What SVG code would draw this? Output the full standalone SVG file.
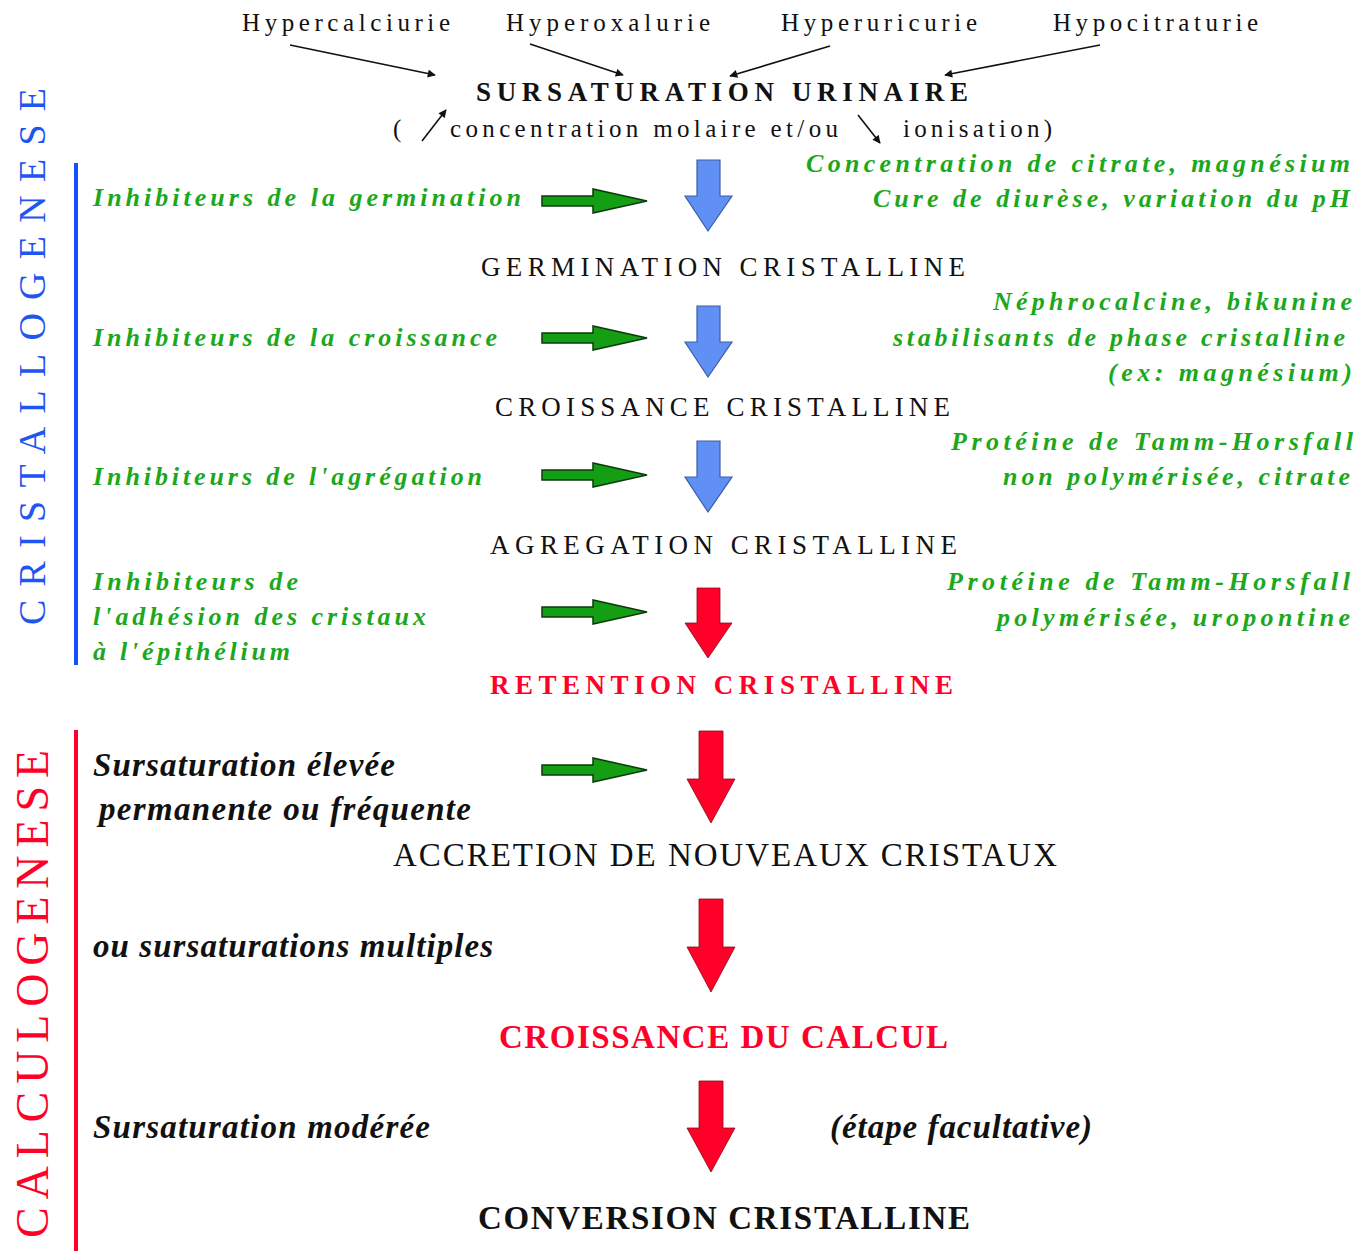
<svg xmlns="http://www.w3.org/2000/svg" width="1369" height="1251" viewBox="0 0 1369 1251">
<style>
text{font-family:"Liberation Serif","Times New Roman",serif}
.lbl{font-size:25px;fill:#111}
.step{font-size:27px;fill:#111}
.gi{font-size:26px;font-style:italic;font-weight:bold;fill:#1ca81c}
.bi{font-size:33px;font-style:italic;font-weight:bold;fill:#111}
.big{font-size:33px;fill:#111}
.red{fill:#ff0028}
.ga{fill:#149e14;stroke:#0b3a0b;stroke-width:1.5}
.ba{fill:#6090f4;stroke:#3c5ca8;stroke-width:1.2}
.ra{fill:#ff0028;stroke:#8a0a1a;stroke-width:0.8}
.thin{stroke:#111;stroke-width:1.6;fill:none;marker-end:url(#ah)}
</style>
<defs>
<marker id="ah" viewBox="0 0 10 10" refX="9" refY="5" markerWidth="9" markerHeight="8" orient="auto" markerUnits="userSpaceOnUse">
<path d="M0,0 L10,5 L0,10 z" fill="#111"/>
</marker>
<path id="greenArrow" d="M0,-5 H51 V-12 L105,0 L51,12 V5 H0 Z"/>
</defs>
<rect width="1369" height="1251" fill="#fff"/>

<g id="side-labels">
<rect x="74" y="163" width="4" height="502" fill="#1450ff"/>
<text fill="#1f55f0" font-size="38" transform="translate(45,625) rotate(-90)" textLength="537" lengthAdjust="spacing">CRISTALLOGENESE</text>
<rect x="74" y="730" width="4" height="521" fill="#ff0028"/>
<text fill="#ff0028" font-size="46" transform="translate(48,1238) rotate(-90)" textLength="488" lengthAdjust="spacing">CALCULOGENESE</text>
</g>

<g id="causes">
<text class="lbl" x="242" y="31" textLength="208" lengthAdjust="spacing">Hypercalciurie</text>
<text class="lbl" x="506" y="31" textLength="204" lengthAdjust="spacing">Hyperoxalurie</text>
<text class="lbl" x="781" y="31" textLength="196" lengthAdjust="spacing">Hyperuricurie</text>
<text class="lbl" x="1053" y="31" textLength="205" lengthAdjust="spacing">Hypocitraturie</text>
</g>

<g id="sursaturation">
<text class="step" font-weight="bold" x="476" y="101" textLength="492" lengthAdjust="spacing">SURSATURATION URINAIRE</text>
<text class="lbl" x="393" y="137">(</text>
<text class="lbl" x="450" y="137" textLength="388" lengthAdjust="spacing">concentration molaire et/ou</text>
<text class="lbl" x="903" y="137" textLength="149" lengthAdjust="spacing">ionisation)</text>
<text class="gi" x="1350" y="172" text-anchor="end" textLength="544" lengthAdjust="spacing">Concentration de citrate,  magnésium</text>
<text class="gi" x="1350" y="207" text-anchor="end" textLength="477" lengthAdjust="spacing">Cure de diurèse, variation du pH</text>
</g>

<g id="germination">
<text class="gi" x="93" y="206" textLength="428" lengthAdjust="spacing">Inhibiteurs de la germination</text>
<text class="step" x="481" y="276" textLength="484" lengthAdjust="spacing">GERMINATION CRISTALLINE</text>
<text class="gi" x="1352" y="310" text-anchor="end" textLength="359" lengthAdjust="spacing">Néphrocalcine, bikunine</text>
<text class="gi" x="1345" y="346" text-anchor="end" textLength="452" lengthAdjust="spacing">stabilisants de phase cristalline</text>
<text class="gi" x="1352" y="381" text-anchor="end" textLength="244" lengthAdjust="spacing">(ex: magnésium)</text>
<text class="gi" x="93" y="346" textLength="404" lengthAdjust="spacing">Inhibiteurs de la croissance</text>
</g>

<g id="croissance">
<text class="step" x="495" y="416" textLength="455" lengthAdjust="spacing">CROISSANCE CRISTALLINE</text>
<text class="gi" x="1353" y="450" text-anchor="end" textLength="402" lengthAdjust="spacing">Protéine de Tamm-Horsfall</text>
<text class="gi" x="1350" y="485" text-anchor="end" textLength="347" lengthAdjust="spacing">non polymérisée, citrate</text>
<text class="gi" x="93" y="485" textLength="389" lengthAdjust="spacing">Inhibiteurs de l'agrégation</text>
</g>

<g id="agregation">
<text class="step" x="490" y="554" textLength="467" lengthAdjust="spacing">AGREGATION CRISTALLINE</text>
<text class="gi" x="1350" y="590" text-anchor="end" textLength="403" lengthAdjust="spacing">Protéine de Tamm-Horsfall</text>
<text class="gi" x="1350" y="626" text-anchor="end" textLength="353" lengthAdjust="spacing">polymérisée, uropontine</text>
<text class="gi" x="93" y="590" textLength="205" lengthAdjust="spacing">Inhibiteurs de</text>
<text class="gi" x="93" y="625" textLength="333" lengthAdjust="spacing">l'adhésion des cristaux</text>
<text class="gi" x="93" y="660" textLength="197" lengthAdjust="spacing">à l'épithélium</text>
</g>

<g id="retention">
<text class="step red" font-weight="bold" x="490" y="694" textLength="463" lengthAdjust="spacing">RETENTION CRISTALLINE</text>
<text class="bi" x="93" y="776" textLength="302" lengthAdjust="spacing">Sursaturation élevée</text>
<text class="bi" x="99" y="820" textLength="372" lengthAdjust="spacing">permanente ou fréquente</text>
</g>

<g id="accretion">
<text class="big" x="393" y="866" textLength="664" lengthAdjust="spacing">ACCRETION DE  NOUVEAUX CRISTAUX</text>
<text class="bi" x="93" y="957" textLength="400" lengthAdjust="spacing">ou sursaturations multiples</text>
</g>

<g id="croissance-calcul">
<text class="big red" font-weight="bold" x="499" y="1048" textLength="449" lengthAdjust="spacing">CROISSANCE DU CALCUL</text>
<text class="bi" x="93" y="1138" textLength="337" lengthAdjust="spacing">Sursaturation modérée</text>
<text class="bi" x="830" y="1138" textLength="262" lengthAdjust="spacing">(étape facultative)</text>
</g>

<g id="conversion">
<text class="big" font-weight="bold" x="478" y="1229" textLength="492" lengthAdjust="spacing">CONVERSION CRISTALLINE</text>
</g>

<g id="connectors">
<line class="thin" x1="290" y1="45" x2="435" y2="75"/>
<line class="thin" x1="530" y1="44" x2="623" y2="75"/>
<line class="thin" x1="830" y1="46" x2="730" y2="76"/>
<line class="thin" x1="1100" y1="45" x2="945" y2="75"/>
<line class="thin" x1="422" y1="141" x2="446" y2="110"/>
<line class="thin" x1="858" y1="115" x2="880" y2="143"/>

<use href="#greenArrow" class="ga" x="542" y="201"/>
<use href="#greenArrow" class="ga" x="542" y="338"/>
<use href="#greenArrow" class="ga" x="542" y="475"/>
<use href="#greenArrow" class="ga" x="542" y="612"/>
<use href="#greenArrow" class="ga" x="542" y="770"/>

<path class="ba" d="M697,160 H720 V196 H732 L708,231 L685,196 H697 Z"/>
<path class="ba" d="M697,306 H720 V342 H732 L708,377 L685,342 H697 Z"/>
<path class="ba" d="M697,441 H720 V477 H732 L708,512 L685,477 H697 Z"/>
<path class="ra" d="M697,588 H720 V623 H732 L708,658 L685,623 H697 Z"/>
<path class="ra" d="M699,731 H723 V779 H735 L711,823 L687,779 H699 Z"/>
<path class="ra" d="M699,899 H723 V947 H735 L711,992 L687,947 H699 Z"/>
<path class="ra" d="M699,1081 H723 V1128 H735 L711,1172 L687,1128 H699 Z"/>
</g>
</svg>
